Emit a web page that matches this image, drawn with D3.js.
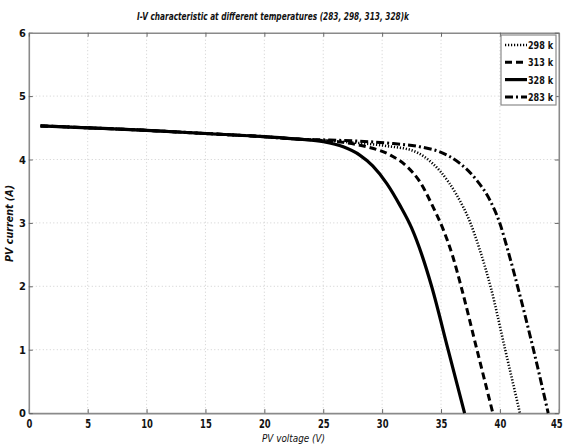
<!DOCTYPE html>
<html>
<head>
<meta charset="utf-8">
<script src="https://cdn.jsdelivr.net/npm/d3@7"></script>
<style>
  body { margin: 0; background: #fff; }
  text { font-family: "DejaVu Sans Condensed", "Liberation Sans", Arial, sans-serif; font-weight: bold; fill: #111; }
</style>
</head>
<body>
<svg id="chart" width="563" height="448"></svg>
<script>
// Axis ticks
const xTicks = [0, 5, 10, 15, 20, 25, 30, 35, 40, 45];
const yTicks = [0, 1, 2, 3, 4, 5, 6];

// Curves (voltage V, current A)
const v328 = [1, 5, 10, 15, 20, 23, 25, 26.7, 28.1, 29.2, 30.4, 31.5, 32.5, 33.4, 34.2, 35.6, 37.0];
const i328 = [4.53, 4.50, 4.46, 4.41, 4.36, 4.32, 4.28, 4.20, 4.07, 3.90, 3.62, 3.28, 2.92, 2.48, 2.0, 1.0, 0];

const v313 = [1, 5, 10, 15, 20, 23, 25, 26.7, 28.7, 30.7, 32.1, 33.2, 34.3, 35.2, 36.0, 36.7, 38.05, 39.4];
const i313 = [4.53, 4.50, 4.46, 4.41, 4.36, 4.32, 4.30, 4.27, 4.20, 4.07, 3.89, 3.65, 3.26, 2.89, 2.47, 2.0, 1.0, 0];

const v298 = [1, 5, 10, 15, 20, 23, 25, 28, 30.5, 32.6, 33.6, 35.0, 36.3, 37.45, 38.3, 39.2, 40.45, 41.7];
const i298 = [4.53, 4.50, 4.46, 4.41, 4.36, 4.32, 4.30, 4.26, 4.21, 4.14, 4.04, 3.80, 3.45, 3.02, 2.57, 2.0, 1.0, 0];

const v283 = [1, 5, 10, 15, 20, 23, 25, 28, 30.4, 33.2, 34.9, 36.6, 38.0, 39.15, 40.0, 40.7, 41.5, 42.85, 44.1];
const i283 = [4.53, 4.50, 4.46, 4.41, 4.36, 4.32, 4.31, 4.29, 4.26, 4.20, 4.12, 3.94, 3.68, 3.36, 2.99, 2.55, 2.0, 1.0, 0];

// Legend order as in the figure
const seriesNames = ["298 k", "313 k", "328 k", "283 k"];
const seriesV = [v298, v313, v328, v283];
const seriesI = [i298, i313, i328, i283];
const seriesDash = ["1.2,1.8", "7,4", null, "8,3,2,3"];
const seriesWidth = [2.6, 3, 3.2, 3];

const svg = d3.select("#chart");

const plotLeft = 28.8, plotRight = 558.8, plotTop = 32.7, plotBottom = 413.1;

const x = d3.scaleLinear().domain([0, 45]).range([plotLeft, plotRight]);
const y = d3.scaleLinear().domain([0, 6]).range([plotBottom, plotTop]);

// Grid lines (dotted)
svg.append("g")
    .selectAll("line")
    .data(xTicks.slice(1, -1))
    .join("line")
    .attr("x1", d => x(d)).attr("x2", d => x(d))
    .attr("y1", plotTop).attr("y2", plotBottom)
    .attr("stroke", "#c4c4c4")
    .attr("stroke-width", 0.8)
    .attr("stroke-dasharray", "1,2.5");

svg.append("g")
    .selectAll("line")
    .data(yTicks.slice(1, -1))
    .join("line")
    .attr("x1", plotLeft).attr("x2", plotRight)
    .attr("y1", d => y(d)).attr("y2", d => y(d))
    .attr("stroke", "#c4c4c4")
    .attr("stroke-width", 0.8)
    .attr("stroke-dasharray", "1,2.5");

// Axes (ticks point inward, box on all sides)
const xAxis = svg.append("g")
    .attr("transform", "translate(0," + plotBottom + ")")
    .call(d3.axisBottom(x).tickValues(xTicks).tickFormat(d3.format("d")).tickSize(-4).tickPadding(6).tickSizeOuter(0));
const yAxis = svg.append("g")
    .attr("transform", "translate(" + plotLeft + ",0)")
    .call(d3.axisLeft(y).tickValues(yTicks).tickFormat(d3.format("d")).tickSize(-4).tickPadding(3).tickSizeOuter(0));
const xTop = svg.append("g")
    .attr("transform", "translate(0," + plotTop + ")")
    .call(d3.axisTop(x).tickValues(xTicks).tickSize(-4).tickFormat("").tickSizeOuter(0));
const yRight = svg.append("g")
    .attr("transform", "translate(" + plotRight + ",0)")
    .call(d3.axisRight(y).tickValues(yTicks).tickSize(-4).tickFormat("").tickSizeOuter(0));

for (let ax of [xAxis, yAxis, xTop, yRight]) {
    ax.select(".domain").attr("stroke", "#8a8a8a").attr("stroke-width", 1.6);
    ax.selectAll(".tick line").attr("stroke", "#666");
    ax.selectAll(".tick text")
        .attr("fill", "#111")
        .style("font-size", "11px")
        .style("font-family", "\"DejaVu Sans Condensed\", \"Liberation Sans\", Arial, sans-serif")
        .style("font-weight", "bold");
}
xAxis.selectAll(".tick text").attr("transform", "scale(0.85,1.1)");
// keep the last label ("45") inside the window
xAxis.selectAll(".tick text").filter(d => d === 45)
    .attr("text-anchor", "end")
    .attr("x", 4);

// Curves
const line = d3.line()
    .x(d => x(d[0]))
    .y(d => y(d[1]))
    .curve(d3.curveMonotoneX);

for (let s = 0; s < seriesNames.length; s++) {
    let pts = seriesV[s].map((v, k) => [v, seriesI[s][k]]);
    let path = svg.append("path")
        .attr("d", line(pts))
        .attr("fill", "none")
        .attr("stroke", "#000")
        .attr("stroke-width", seriesWidth[s]);
    if (seriesDash[s]) path.attr("stroke-dasharray", seriesDash[s]);
}

// Legend
const legend = svg.append("g");
legend.append("rect")
    .attr("x", 501).attr("y", 35)
    .attr("width", 55).attr("height", 70)
    .attr("fill", "#fff")
    .attr("stroke", "#8a8a8a")
    .attr("stroke-width", 1.2);

seriesNames.forEach((name, k) => {
    let ly = 45 + k * 17.3;
    let l = legend.append("line")
        .attr("x1", 505).attr("x2", 527)
        .attr("y1", ly).attr("y2", ly)
        .attr("stroke", "#000")
        .attr("stroke-width", seriesWidth[k]);
    if (seriesDash[k]) l.attr("stroke-dasharray", seriesDash[k]);
    legend.append("text")
        .attr("x", 528).attr("y", ly + 4)
        .attr("textLength", 25)
        .attr("lengthAdjust", "spacingAndGlyphs")
        .style("font-size", "11px")
        .text(name);
});

// Title and axis labels
svg.append("text")
    .attr("x", 137).attr("y", 20)
    .attr("textLength", 272)
    .attr("lengthAdjust", "spacingAndGlyphs")
    .style("font-size", "11px")
    .style("font-style", "italic")
    .text("I-V  characteristic at different temperatures (283, 298, 313, 328)k");

svg.append("text")
    .attr("x", 262).attr("y", 442)
    .attr("textLength", 63)
    .attr("lengthAdjust", "spacingAndGlyphs")
    .style("font-size", "11px")
    .style("font-style", "italic")
    .style("font-weight", "normal")
    .text("PV voltage (V)");

svg.append("text")
    .attr("transform", "translate(13,262) rotate(-90)")
    .attr("textLength", 77)
    .attr("lengthAdjust", "spacingAndGlyphs")
    .style("font-size", "11px")
    .style("font-style", "italic")
    .text("PV current (A)");
</script>
</body>
</html>
